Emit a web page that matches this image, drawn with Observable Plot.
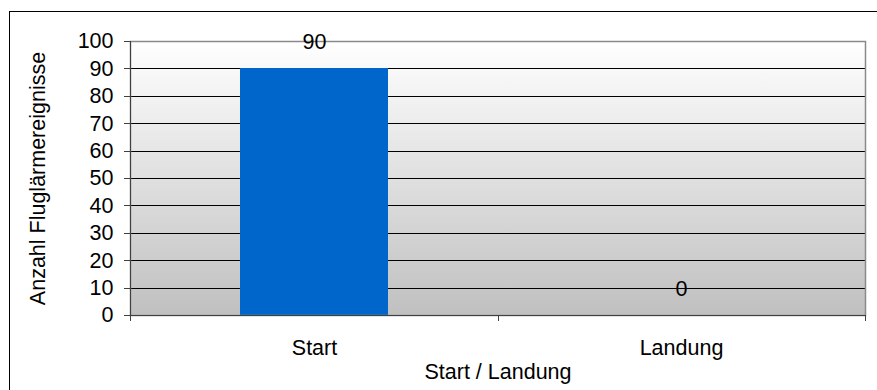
<!DOCTYPE html>
<html>
<head>
<meta charset="utf-8">
<script src="https://cdn.jsdelivr.net/npm/d3@7"></script>
<script src="https://cdn.jsdelivr.net/npm/@observablehq/plot@0.6"></script>
<style>
  body { margin: 0; background: #fff; }
  #chart { position: relative; width: 877px; height: 390px; overflow: hidden; }
  #chart svg { position: absolute; left: 0; top: 0; }
  #chart .outline { position: absolute; left: 9px; top: 11px; width: 900px; height: 420px; border: 1px solid #000; box-sizing: border-box; }
</style>
</head>
<body>
<div id="chart"></div>
<script>
// Fluglärmereignisse nach Start / Landung
const categories = ["Start", "Landung"];
const counts = [90, 0];
const yTicks = [0, 10, 20, 30, 40, 50, 60, 70, 80, 90, 100];
const xTitle = "Start / Landung";
const yTitle = "Anzahl Fluglärmereignisse";

const data = categories.map((kategorie, i) => ({kategorie, anzahl: counts[i]}));

// Axis lines and category-boundary ticks, positioned from the band scale
function axisLines(index, scales, values, dims) {
  const x = scales.x;
  const bw = typeof x.bandwidth === "function" ? x.bandwidth() : x.bandwidth;
  const left = dims.marginLeft, right = dims.width - dims.marginRight;
  const top = dims.marginTop, bottom = dims.height - dims.marginBottom;
  const starts = categories.map(c => x(c));
  const bounds = [left];
  for (let i = 1; i < starts.length; i++) bounds.push((starts[i - 1] + bw + starts[i]) / 2);
  bounds.push(right);
  const g = d3.create("svg:g").attr("stroke", "#404040").attr("fill", "none").attr("shape-rendering", "crispEdges");
  g.append("line").attr("x1", left + 0.5).attr("x2", left + 0.5).attr("y1", top).attr("y2", bottom + 6);
  g.append("line").attr("x1", left).attr("x2", right).attr("y1", bottom + 0.5).attr("y2", bottom + 0.5);
  for (const b of bounds) {
    g.append("line").attr("x1", b + 0.5).attr("x2", b + 0.5).attr("y1", bottom).attr("y2", bottom + 6);
  }
  return g.node();
}

const plot = Plot.plot({
  width: 877,
  height: 390,
  marginLeft: 130,
  marginRight: 12,
  marginTop: 41,
  marginBottom: 75,
  style: {fontFamily: "'Liberation Sans', Arial, sans-serif", fontSize: "21.5px", color: "#000", background: "transparent"},
  x: {domain: categories, paddingInner: 0.597, paddingOuter: 0.2985, label: null},
  y: {domain: [0, 100], label: null},
  marks: [
    Plot.frame({fill: "url(#plotGradient)"}),
    Plot.ruleY(yTicks.filter(t => t > 0 && t < 100), {stroke: "#000", strokeWidth: 1, shapeRendering: "crispEdges"}),
    Plot.barY(data, {x: "kategorie", y: "anzahl", fill: "#0066cc", shapeRendering: "crispEdges"}),
    Plot.frame({stroke: "#8a8a8a", strokeWidth: 1.5}),
    Plot.axisY({ticks: yTicks, tickSize: 6, tickPadding: 11, tickFormat: d => String(d), label: null, stroke: "#404040", shapeRendering: "crispEdges"}),
    Plot.axisX({tickSize: 0, tickPadding: 24, label: null}),
    Plot.text(data, {x: "kategorie", y: "anzahl", text: d => String(d.anzahl), dy: -26.5, fill: "#000"}),
    Plot.text([yTitle], {frameAnchor: "left", textAnchor: "middle", lineAnchor: "middle", rotate: -90, dx: -92, text: d => d, fill: "#000"}),
    Plot.text([xTitle], {frameAnchor: "bottom", textAnchor: "middle", lineAnchor: "middle", dy: 57, text: d => d, fill: "#000"}),
    axisLines
  ]
});

d3.select(plot).insert("defs", ":first-child").html(
  '<linearGradient id="plotGradient" x1="0" y1="0" x2="0" y2="1">' +
  '<stop offset="0" stop-color="#ffffff"/><stop offset="1" stop-color="#c0c0c0"/></linearGradient>'
);

const chart = document.getElementById("chart");
chart.appendChild(plot);
const outline = document.createElement("div");
outline.className = "outline";
chart.appendChild(outline);
</script>
</body>
</html>
